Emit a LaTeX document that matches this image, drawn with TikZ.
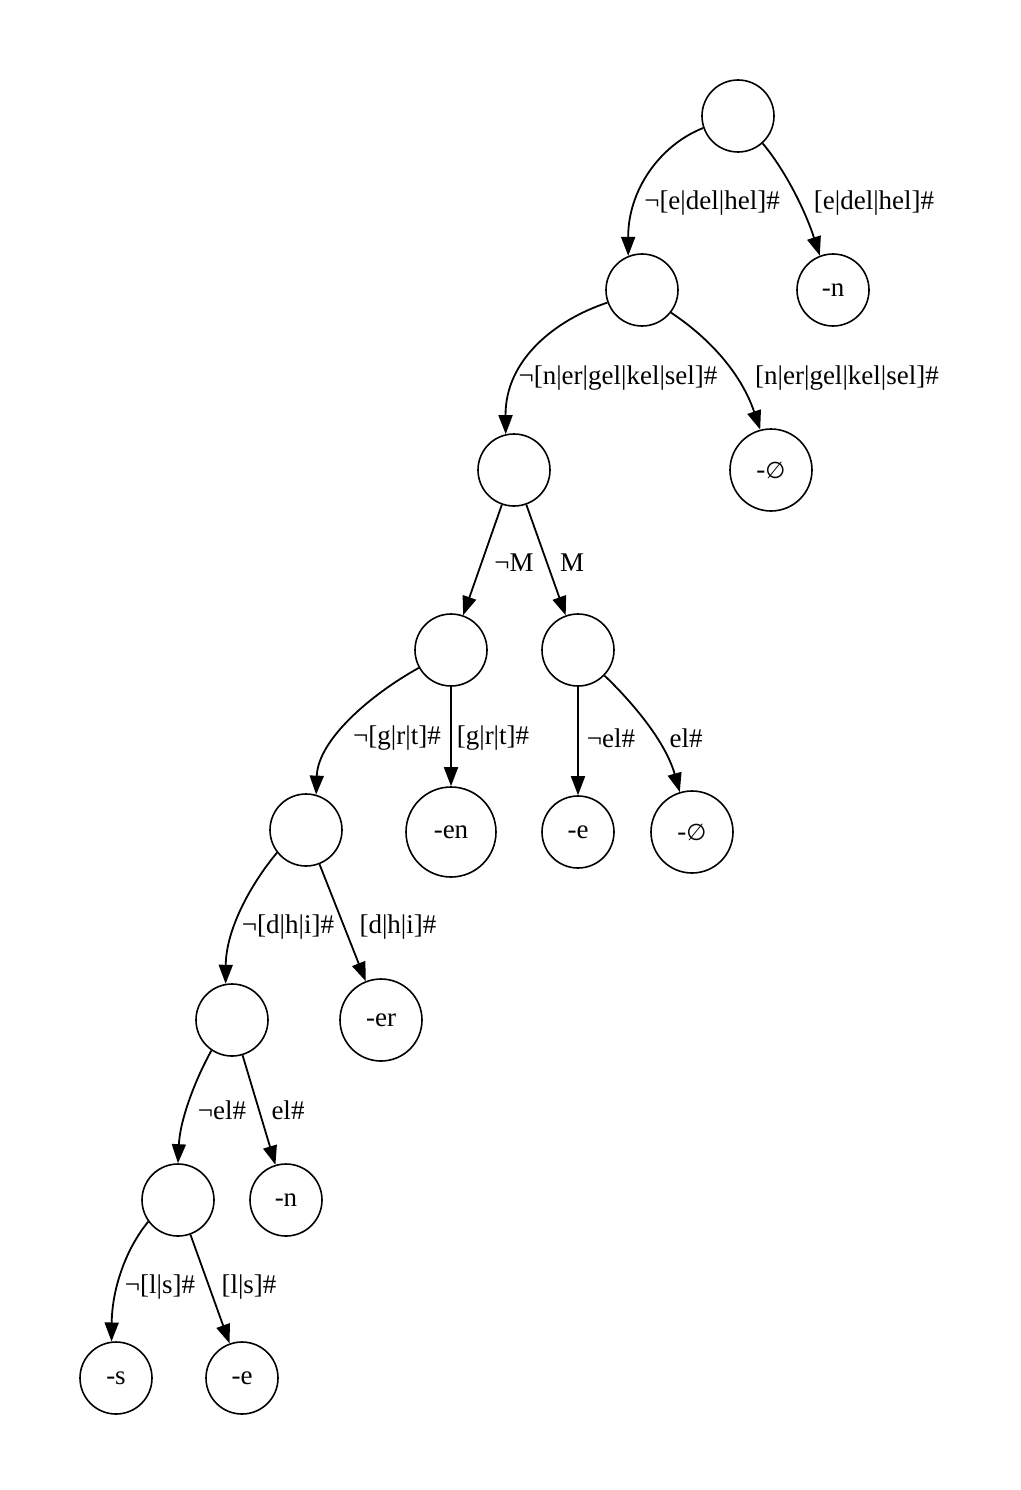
\documentclass[tikz,border=0pt]{standalone}
\usepackage{fontspec}
\setmainfont{Liberation Serif}
\newfontfamily\dvsymfont{DejaVu Sans}
\usetikzlibrary{arrows.meta}
\tikzset{
  st/.style={circle,draw,line width=1.6pt,inner sep=0pt,minimum size=72pt,font=\fontsize{27}{32}\selectfont},
  stm/.style={st,minimum size=82pt},
  stl/.style={st,minimum size=90pt},
  ed/.style={line width=1.8pt,-{Triangle[length=19pt,width=14pt]}},
  lab/.style={font=\fontsize{27}{32}\selectfont,inner sep=0pt}
}
\newcommand{\emptyglyph}{{\dvsymfont\fontsize{23}{30}\selectfont ∅}}
\begin{document}
\begin{tikzpicture}[x=1pt,y=-1pt]
\useasboundingbox (0,0) rectangle (1020,1490);
% nodes
\node[st] (root) at (738,116) {};
\node[st] (A) at (642,290) {};
\node[st] (n1) at (833,290) {-n};
\node[st] (B) at (514,470) {};
\node[stm] (o1) at (771,470) {-\emptyglyph};
\node[st] (C) at (451,650) {};
\node[st] (D) at (578,650) {};
\node[st] (E) at (306,830) {};
\node[stl] (en) at (451,832) {-en};
\node[st] (e1) at (578,832) {-e};
\node[stm] (o2) at (692,832) {-\emptyglyph};
\node[st] (F) at (232,1020) {};
\node[stm] (er) at (381,1020) {-er};
\node[st] (G) at (178,1200) {};
\node[st] (n2) at (286,1200) {-n};
\node[st] (s) at (116,1378) {-s};
\node[st] (e2) at (242,1378) {-e};
% edges
\draw[ed] (root.199) .. controls (660,145) and (628,190) .. (A.112);
\draw[ed] (root.-48) .. controls (785,170) and (805,210) .. (n1.111);
\draw[ed] (A.200) .. controls (555,320) and (505,360) .. (B.103);
\draw[ed] (A.-38) .. controls (705,335) and (740,370) .. (o1.105);
\draw[ed] (B) -- (C);
\draw[ed] (B) -- (D);
\draw[ed] (C.209) .. controls (370,695) and (318,740) .. (E.74);
\draw[ed] (C) -- (en);
\draw[ed] (D) -- (e1);
\draw[ed] (D.-44) .. controls (630,700) and (665,740) .. (o2.107);
\draw[ed] (E.218) .. controls (250,885) and (226,930) .. (F.100);
\draw[ed] (E) -- (er);
\draw[ed] (F.236) .. controls (195,1080) and (180,1120) .. (G.90);
\draw[ed] (F) -- (n2);
\draw[ed] (G.216) .. controls (125,1250) and (112,1290) .. (s.97);
\draw[ed] (G) -- (e2);
% labels
\node[lab] (l1) at (712,203) {¬[e|del|hel]\#};
\node[lab] (l2) at (874,203) {[e|del|hel]\#};
\node[lab] (l3) at (618,378) {¬[n|er|gel|kel|sel]\#};
\node[lab] (l4) at (847,378) {[n|er|gel|kel|sel]\#};
\node[lab] (l5) at (514,563) {¬M};
\node[lab] (l6) at (572,563) {M};
\node[lab] (l7) at (397,738) {¬[g|r|t]\#};
\node[lab] (l8) at (493,738) {[g|r|t]\#};
\node[lab] (l9) at (611,738) {¬el\#};
\node[lab] (l10) at (686,738) {el\#};
\node[lab] (l11) at (288,927) {¬[d|h|i]\#};
\node[lab] (l12) at (398,927) {[d|h|i]\#};
\node[lab] (l13) at (222,1110) {¬el\#};
\node[lab] (l14) at (288,1110) {el\#};
\node[lab] (l15) at (160,1287) {¬[l|s]\#};
\node[lab] (l16) at (249,1287) {[l|s]\#};
\end{tikzpicture}
\end{document}
